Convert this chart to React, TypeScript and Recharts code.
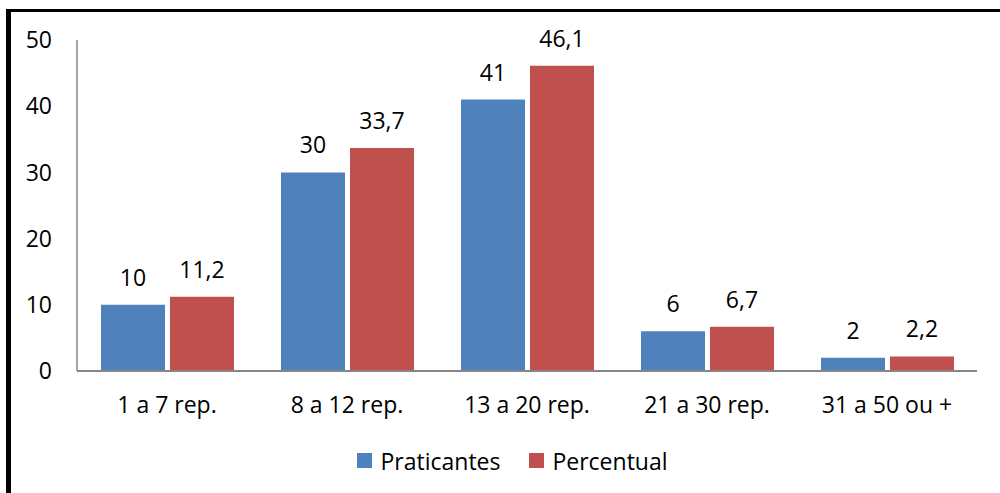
import { Bar, BarChart, LabelList, Legend, XAxis, YAxis } from "recharts"

const categories = ["1 a 7 rep.", "8 a 12 rep.", "13 a 20 rep.", "21 a 30 rep.", "31 a 50 ou +"]
const praticantes = [10, 30, 41, 6, 2]
const percentual = [11.2, 33.7, 46.1, 6.7, 2.2]
const yTicks = [0, 10, 20, 30, 40, 50]

const data = categories.map((cat, i) => ({
  cat,
  praticantes: praticantes[i],
  percentual: percentual[i],
}))

const BLUE = "#4F81BD"
const RED = "#C0504D"
const AXIS = "#868686"
const FONT = "'Open Sans', Lato, sans-serif"
const FS = 23

const fmt = (v: any) => String(v).replace(".", ",")

function ChartLegend() {
  const items = [
    { name: "Praticantes", color: BLUE },
    { name: "Percentual", color: RED },
  ]
  return (
    <div
      style={{
        height: 50,
        boxSizing: "border-box",
        display: "flex",
        justifyContent: "center",
        alignItems: "flex-start",
        paddingTop: 2,
        paddingLeft: 48,
        fontFamily: FONT,
        fontSize: FS,
        color: "#000",
      }}
    >
      {items.map((it, i) => (
        <div key={it.name} style={{ display: "flex", alignItems: "center", height: 31, marginLeft: i ? 29 : 0 }}>
          <span style={{ width: 15, height: 15, background: it.color, display: "inline-block", marginRight: 8 }} />
          <span>{it.name}</span>
        </div>
      ))}
    </div>
  )
}

export default function App() {
  return (
    <div style={{ position: "absolute", left: 0, top: 0, width: 1000, height: 493, background: "#fff", overflow: "hidden" }}>
      <div
        style={{
          position: "absolute",
          left: 6,
          top: 9,
          width: 1000,
          height: 500,
          borderTop: "3px solid #000",
          borderLeft: "5px solid #000",
          boxSizing: "border-box",
        }}
      />
      <div style={{ position: "absolute", left: 0, top: 0 }}>
        <BarChart
          width={1000}
          height={493}
          data={data}
          margin={{ top: 40, right: 23, left: 0, bottom: 0 }}
          barCategoryGap={24}
          barGap={5}
        >
          <XAxis
            dataKey="cat"
            height={72}
            stroke={AXIS}
            strokeWidth={2}
            tickLine={false}
            tickSize={0}
            tickMargin={26}
            tick={{ fill: "#000", fontSize: FS, fontFamily: FONT }}
          />
          <YAxis
            width={77}
            domain={[0, 50]}
            ticks={yTicks}
            stroke={AXIS}
            strokeWidth={1.5}
            tickLine={false}
            tickSize={0}
            tickMargin={25}
            tick={{ fill: "#000", fontSize: FS, fontFamily: FONT }}
          />
          <Legend verticalAlign="bottom" content={<ChartLegend />} />
          <Bar dataKey="praticantes" name="Praticantes" fill={BLUE} isAnimationActive={false}>
            <LabelList dataKey="praticantes" position="top" offset={19} formatter={fmt} fill="#000" fontSize={FS} fontFamily={FONT} />
          </Bar>
          <Bar dataKey="percentual" name="Percentual" fill={RED} isAnimationActive={false}>
            <LabelList dataKey="percentual" position="top" offset={19} formatter={fmt} fill="#000" fontSize={FS} fontFamily={FONT} />
          </Bar>
        </BarChart>
      </div>
    </div>
  )
}
